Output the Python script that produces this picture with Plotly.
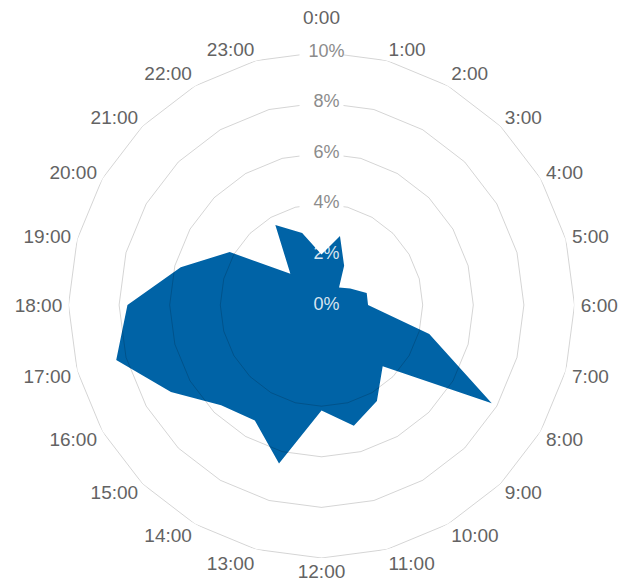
import plotly.graph_objects as go

hours = [f"{h}:00" for h in range(24)]
share = [2.0, 2.82, 1.79, 0.98, 1.31, 1.85, 1.84, 4.41, 7.77, 3.42, 4.38, 4.94,
         4.17, 6.49, 5.27, 5.61, 6.87, 8.40, 7.67, 5.76, 4.19, 1.74, 3.65, 2.95]
ring_values = [4, 6, 8, 10]
outer_ticks = [4, 6, 8, 10]
inner_ticks = [0, 2]
# small vertical nudges (px) of the hour labels, positive = up
label_raise = {0: 18, 1: -3, 23: -3, 8: 4, 9: 7, 10: 7, 11: 6, 12: 5,
               13: 6, 14: 7, 15: 7, 16: 4}

FILL = "#0063A6"
FONT = "Liberation Sans, Arial, sans-serif"
fig = go.Figure()

# data area
fig.add_trace(go.Scatterpolar(
    r=share + share[:1], theta=hours + hours[:1],
    mode="lines", fill="toself", fillcolor=FILL,
    line=dict(color=FILL, width=0), hoverinfo="skip", showlegend=False))

# polygon rings drawn over the fill
for rv in ring_values:
    fig.add_trace(go.Scatterpolar(
        r=[rv] * 25, theta=hours + hours[:1], mode="lines",
        line=dict(color="rgba(0,0,0,0.17)", width=1),
        hoverinfo="skip", showlegend=False))

# radial tick labels on white
fig.add_trace(go.Scatterpolar(
    r=outer_ticks, theta=[hours[0]] * len(outer_ticks),
    mode="markers+text", text=[f"\u00a0\u00a0{v}%" for v in outer_ticks],
    textposition="middle center",
    textfont=dict(family=FONT, size=18, color="#8c8c8c"),
    marker=dict(symbol="square", size=44, color="white", line=dict(width=0)),
    cliponaxis=False, hoverinfo="skip", showlegend=False))

# radial tick labels over the filled area
fig.add_trace(go.Scatterpolar(
    r=inner_ticks, theta=[hours[0]] * len(inner_ticks),
    mode="text", text=[f"\u00a0\u00a0{v}%" for v in inner_ticks],
    textposition="middle center",
    textfont=dict(family=FONT, size=18, color="rgba(255,255,255,0.85)"),
    cliponaxis=False, hoverinfo="skip", showlegend=False))


def hour_label(i, h):
    if i in label_raise:
        return f'<span style="baseline-shift:{label_raise[i]}px">{h}</span>'
    return h


fig.update_layout(
    width=633, height=583,
    margin=dict(l=0, r=0, t=0, b=0),
    paper_bgcolor="white",
    polar=dict(
        domain=dict(x=[68.5 / 633, 574.5 / 633], y=[25 / 583, 531 / 583]),
        bgcolor="white",
        gridshape="circular",
        radialaxis=dict(range=[0, 10], showgrid=False, showticklabels=False,
                        showline=False, ticks=""),
        angularaxis=dict(rotation=90, direction="clockwise", categoryorder="array",
                         categoryarray=hours, showgrid=False, showline=False,
                         ticks="outside", ticklen=2, tickcolor="rgba(0,0,0,0)",
                         tickmode="array", tickvals=hours,
                         ticktext=[hour_label(i, h) for i, h in enumerate(hours)],
                         tickfont=dict(family=FONT, size=19, color="#636363")),
    ),
)

fig.write_html("out.html")
